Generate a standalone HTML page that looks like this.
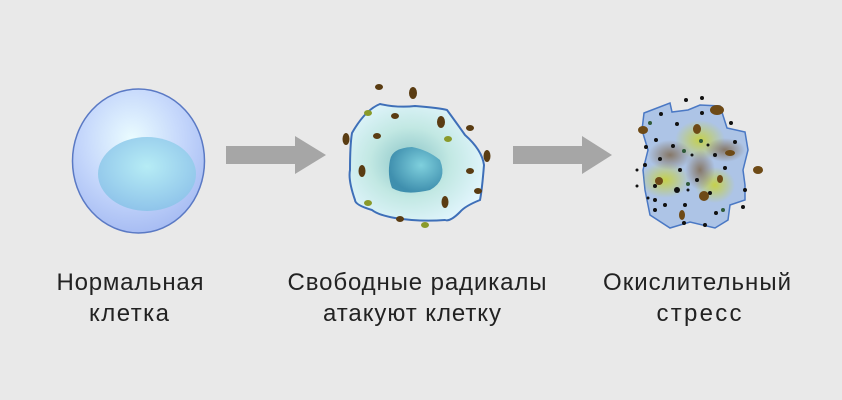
<!DOCTYPE html>
<html><head><meta charset="utf-8"><style>
body{margin:0;background:#e9e9e9;}
svg{display:block}
text{font-family:"Liberation Sans","DejaVu Sans",sans-serif;font-size:24px;fill:#222;text-anchor:middle}
</style></head><body>
<svg width="842" height="400" viewBox="0 0 842 400" xmlns="http://www.w3.org/2000/svg">
<defs>
<radialGradient id="c1" cx="0.45" cy="0.35" r="0.65"><stop offset="0" stop-color="#eafcff"/><stop offset="0.6" stop-color="#c4d6fb"/><stop offset="1" stop-color="#a8bdf3"/></radialGradient>
<radialGradient id="n1" cx="0.5" cy="0.4" r="0.6"><stop offset="0" stop-color="#b6ecf5"/><stop offset="1" stop-color="#8fc4ea"/></radialGradient>
<radialGradient id="c2" cx="0.45" cy="0.5" r="0.6"><stop offset="0" stop-color="#88c3c6"/><stop offset="0.5" stop-color="#c2e8e3"/><stop offset="1" stop-color="#e4f6ff"/></radialGradient>
<radialGradient id="n2" cx="0.6" cy="0.4" r="0.6"><stop offset="0" stop-color="#7fd0dd"/><stop offset="1" stop-color="#3f8fae"/></radialGradient>
<radialGradient id="y" cx="0.5" cy="0.5" r="0.5"><stop offset="0" stop-color="#c8d23a" stop-opacity="0.9"/><stop offset="1" stop-color="#c8d23a" stop-opacity="0"/></radialGradient>
<radialGradient id="br" cx="0.5" cy="0.5" r="0.5"><stop offset="0" stop-color="#7d6548" stop-opacity="0.8"/><stop offset="1" stop-color="#7d6548" stop-opacity="0"/></radialGradient>
<clipPath id="cl3"><path d="M644,113 L670,103 L672,112 L688,110 L700,105 L720,106 L727,128 L745,132 L748,150 L743,170 L745,185 L745,200 L730,205 L728,220 L715,228 L690,222 L670,228 L650,215 L645,190 L643,170 L648,150 L642,130 Z"/></clipPath>
</defs>
<ellipse cx="138.5" cy="161" rx="66" ry="72" fill="url(#c1)" stroke="#5a79c4" stroke-width="1.5"/>
<ellipse cx="147" cy="174" rx="49" ry="37" fill="url(#n1)"/>
<polygon points="226,146 295,146 295,136 326,155 295,174 295,164 226,164" fill="#a6a6a6"/>
<polygon points="513,146 582,146 582,136 612,155 582,174 582,164 513,164" fill="#a6a6a6"/>
<path d="M352,133 Q365,110 380,104 Q398,108 415,106 Q440,108 447,110 Q458,125 465,135 Q482,150 484,165 Q482,190 480,200 Q465,206 460,212 Q450,222 445,220 Q420,222 395,218 Q378,215 372,210 Q355,205 355,200 Q348,180 350,170 Q350,145 352,133 Z" fill="url(#c2)" stroke="#3e6fb8" stroke-width="2"/>
<path d="M390,160 Q392,148 412,147 Q428,150 440,160 Q448,180 430,190 Q405,196 392,188 Q387,175 390,160 Z" fill="url(#n2)"/>
<g fill="#5a3c12">
<ellipse cx="379" cy="87" rx="4" ry="3"/><ellipse cx="413" cy="93" rx="4" ry="6"/><ellipse cx="395" cy="116" rx="4" ry="3"/><ellipse cx="441" cy="122" rx="4" ry="6"/><ellipse cx="470" cy="128" rx="4" ry="3"/><ellipse cx="346" cy="139" rx="3.5" ry="6"/><ellipse cx="377" cy="136" rx="4" ry="3"/><ellipse cx="487" cy="156" rx="3.5" ry="6"/><ellipse cx="362" cy="171" rx="3.5" ry="6"/><ellipse cx="470" cy="171" rx="4" ry="3"/><ellipse cx="478" cy="191" rx="4" ry="3"/><ellipse cx="445" cy="202" rx="3.5" ry="6"/><ellipse cx="400" cy="219" rx="4" ry="3"/></g>
<g fill="#8a9a2a"><ellipse cx="368" cy="113" rx="4" ry="3"/><ellipse cx="448" cy="139" rx="4" ry="3"/><ellipse cx="368" cy="203" rx="4" ry="3"/><ellipse cx="425" cy="225" rx="4" ry="3"/></g>
<path d="M644,113 L670,103 L672,112 L688,110 L700,105 L720,106 L727,128 L745,132 L748,150 L743,170 L745,185 L745,200 L730,205 L728,220 L715,228 L690,222 L670,228 L650,215 L645,190 L643,170 L648,150 L642,130 Z" fill="#adc4e6" stroke="#4a78c4" stroke-width="1.5"/>
<g clip-path="url(#cl3)">
<ellipse cx="700" cy="140" rx="25" ry="20" fill="url(#y)"/><ellipse cx="665" cy="180" rx="25" ry="18" fill="url(#y)"/><ellipse cx="715" cy="185" rx="20" ry="18" fill="url(#y)"/>
<ellipse cx="670" cy="155" rx="22" ry="15" fill="url(#br)"/><ellipse cx="725" cy="150" rx="20" ry="12" fill="url(#br)"/><ellipse cx="700" cy="170" rx="15" ry="20" fill="url(#br)"/>
</g>
<g fill="#111">
<circle cx="686" cy="100" r="2"/><circle cx="702" cy="98" r="2"/><circle cx="661" cy="114" r="2"/><circle cx="702" cy="113" r="2"/><circle cx="731" cy="123" r="2"/><circle cx="677" cy="124" r="2"/><circle cx="656" cy="140" r="2"/><circle cx="673" cy="146" r="2"/><circle cx="692" cy="155" r="1.5"/><circle cx="708" cy="145" r="1.5"/><circle cx="735" cy="142" r="2"/><circle cx="646" cy="147" r="2"/><circle cx="660" cy="159" r="2"/><circle cx="715" cy="155" r="2"/><circle cx="680" cy="170" r="2"/><circle cx="725" cy="168" r="2"/><circle cx="637" cy="170" r="1.5"/><circle cx="645" cy="165" r="2"/><circle cx="697" cy="180" r="2"/><circle cx="655" cy="186" r="2"/><circle cx="688" cy="190" r="1.5"/><circle cx="745" cy="190" r="2"/><circle cx="677" cy="190" r="3"/><circle cx="710" cy="193" r="2"/><circle cx="637" cy="186" r="1.5"/><circle cx="648" cy="198" r="1.5"/><circle cx="655" cy="200" r="2"/><circle cx="665" cy="205" r="2"/><circle cx="655" cy="210" r="2"/><circle cx="743" cy="207" r="2"/><circle cx="716" cy="213" r="2"/><circle cx="685" cy="205" r="2"/><circle cx="705" cy="225" r="2"/><circle cx="684" cy="223" r="2"/></g>
<g fill="#6e4a16">
<ellipse cx="717" cy="110" rx="7" ry="5"/><ellipse cx="643" cy="130" rx="5" ry="4"/><ellipse cx="697" cy="129" rx="4" ry="5"/><ellipse cx="730" cy="153" rx="5" ry="3"/><ellipse cx="758" cy="170" rx="5" ry="4"/><ellipse cx="659" cy="181" rx="4" ry="4"/><ellipse cx="720" cy="179" rx="3" ry="4"/><ellipse cx="704" cy="196" rx="5" ry="5"/><ellipse cx="682" cy="215" rx="3" ry="5"/></g>
<g fill="#2f5a3a"><circle cx="650" cy="123" r="2"/><circle cx="684" cy="151" r="2"/><circle cx="701" cy="141" r="2"/><circle cx="688" cy="184" r="2"/><circle cx="723" cy="210" r="2"/></g>
<text x="130" y="290" textLength="147" lengthAdjust="spacing">Нормальная</text><text x="129" y="321" textLength="80" lengthAdjust="spacing">клетка</text>
<text x="417" y="290" textLength="259" lengthAdjust="spacing">Свободные радикалы</text><text x="412" y="321" textLength="178" lengthAdjust="spacing">атакуют клетку</text>
<text x="697" y="290" textLength="188" lengthAdjust="spacing">Окислительный</text><text x="699" y="321" textLength="85" lengthAdjust="spacing">стресс</text>
</svg>
</body></html>
